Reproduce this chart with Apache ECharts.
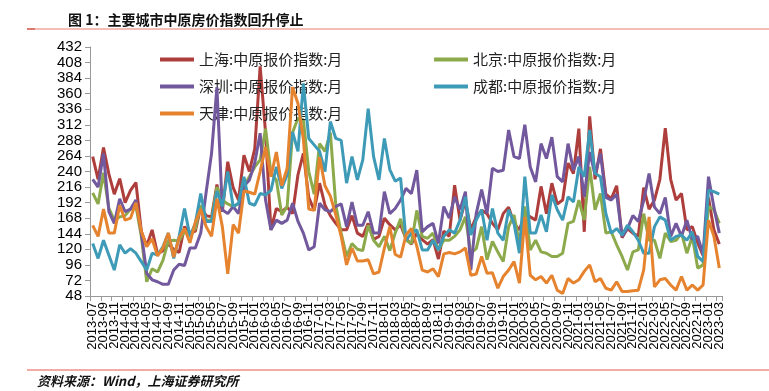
<!DOCTYPE html>
<html>
<head>
<meta charset="utf-8">
<script src="https://cdn.jsdelivr.net/npm/echarts@6/dist/echarts.min.js"></script>
<style>
html,body{margin:0;padding:0;background:#fff;}
#chart{width:769px;height:391px;}
</style>
</head>
<body>
<div id="chart"></div>
<script>
// Categories: monthly, 2013-07 .. 2023-03
const startYear = 2013, startMonth = 7, monthCount = 117;
const categories = [];
for (let k = 0; k < monthCount; k++) {
  const m0 = startMonth - 1 + k;
  const y = startYear + Math.floor(m0 / 12);
  const m = (m0 % 12) + 1;
  categories.push(y + '-' + (m < 10 ? '0' + m : '' + m));
}

const yTicks = [48, 72, 96, 120, 144, 168, 192, 216, 240, 264, 288, 312, 336, 360, 384, 408, 432];

const names = ['上海:中原报价指数:月', '北京:中原报价指数:月', '深圳:中原报价指数:月', '成都:中原报价指数:月', '天津:中原报价指数:月'];

const shanghai = [
  263, 228, 277, 236, 205, 229, 192, 211, 223, 148, 125, 150, 113, 118, 128, 120, 115, 155, 145, 148, 185, 172, 170, 220,
  178, 255, 215, 196, 265, 240, 275, 402, 300, 150, 183, 178, 185, 175, 235, 268, 200, 180, 222, 188, 172, 160, 150,
  150, 172, 145, 140, 160, 135, 140, 168, 158, 150, 158, 136, 128, 145, 135, 128, 135, 105, 148, 140, 219, 165, 195,
  150, 170, 180, 175, 160, 150, 175, 185, 160, 150, 175, 170, 165, 217, 175, 222, 190, 196, 253, 237, 306, 147, 325, 228,
  275, 205, 198, 218, 138, 152, 145, 140, 215, 182, 196, 228, 307, 228, 196, 206, 150, 155, 130, 110, 200, 150, 128
];
const beijing = [
  207, 190, 238, 183, 165, 170, 172, 182, 187, 140, 70, 90, 85, 103, 133, 134, 133, 148, 145, 152, 188, 165, 165, 216,
  196, 190, 186, 190, 217, 232, 247, 258, 306, 237, 227, 173, 186, 300, 322, 320, 240, 205, 283, 271, 300, 188, 145,
  109, 129, 120, 118, 157, 134, 124, 140, 118, 145, 167, 134, 129, 180, 140, 137, 145, 119, 134, 134, 140, 150, 170,
  114, 121, 155, 104, 132, 116, 101, 155, 173, 129, 186, 119, 134, 116, 114, 109, 109, 114, 160, 163, 196, 165, 247, 181,
  206, 145, 147, 127, 109, 88, 116, 119, 175, 134, 134, 106, 145, 132, 134, 145, 114, 140, 91, 96, 186, 181, 160
];
const shenzhen = [
  228, 216, 268, 178, 160, 198, 178, 182, 196, 145, 83, 73, 70, 66, 66, 88, 97, 95, 122, 122, 145, 208, 268, 370,
  181, 175, 186, 175, 217, 227, 253, 299, 196, 150, 165, 160, 165, 191, 163, 145, 119, 124, 191, 181, 178, 186, 190,
  155, 193, 157, 157, 178, 145, 145, 209, 175, 183, 196, 214, 206, 242, 147, 155, 160, 129, 186, 168, 201, 181, 209,
  88, 175, 212, 175, 245, 240, 242, 304, 263, 260, 312, 247, 224, 283, 260, 293, 232, 224, 283, 242, 263, 201, 270, 235,
  268, 200, 196, 205, 140, 152, 172, 163, 195, 237, 185, 175, 200, 140, 160, 140, 165, 135, 140, 112, 232, 185, 145
];
const chengdu = [
  129, 106, 134, 111, 88, 127, 114, 121, 114, 101, 88, 114, 111, 124, 145, 106, 140, 183, 140, 160, 206, 163, 163, 210,
  186, 240, 186, 191, 232, 191, 188, 206, 204, 211, 247, 214, 235, 301, 271, 376, 291, 281, 271, 240, 317, 291, 288,
  222, 263, 227, 258, 337, 263, 227, 291, 243, 225, 230, 134, 145, 150, 119, 119, 134, 119, 140, 150, 145, 165, 201,
  142, 165, 181, 134, 183, 145, 134, 181, 160, 114, 232, 145, 145, 173, 147, 204, 181, 165, 201, 193, 247, 232, 304, 237,
  232, 175, 145, 152, 142, 157, 147, 134, 114, 114, 155, 170, 165, 134, 140, 142, 134, 147, 109, 101, 211, 209, 205
];
const tianjin = [
  157, 140, 182, 145, 145, 188, 165, 168, 192, 148, 124, 136, 110, 122, 145, 108, 138, 152, 130, 162, 182, 155, 140, 198,
  155, 82, 158, 145, 210, 208, 205, 240, 278, 232, 270, 218, 245, 370, 345, 290, 182, 180, 262, 218, 202, 173, 140,
  96, 122, 102, 102, 104, 82, 85, 122, 155, 112, 108, 142, 152, 125, 88, 85, 90, 78, 113, 115, 113, 116, 122,
  80, 82, 109, 83, 84, 60, 78, 88, 101, 68, 170, 80, 73, 78, 68, 80, 57, 52, 75, 68, 73, 86, 96, 70,
  75, 60, 57, 70, 55, 55, 56, 57, 88, 170, 62, 73, 75, 65, 57, 78, 57, 65, 57, 65, 165, 140, 91
];

const colors = ['#AE3E3B', '#8CAA4C', '#72589C', '#3E9BB7', '#E6832F'];
const seriesData = [shanghai, beijing, shenzhen, chengdu, tianjin];

const chart = echarts.init(document.getElementById('chart'), null, {renderer: 'canvas'});

const legendPos = [
  {left: 155, top: 47},
  {left: 429, top: 47},
  {left: 155, top: 74},
  {left: 429, top: 74},
  {left: 155, top: 101}
];

const everyOther = function (idx) { return idx % 2 === 0; };

const option = {
  backgroundColor: '#ffffff',
  animation: false,
  color: colors,
  title: {
    text: '图 1：主要城市中原房价指数回升停止',
    left: 63, top: 8,
    textStyle: {fontSize: 14, fontWeight: 'bold', color: '#111', fontFamily: 'Noto Sans CJK SC'}
  },
  graphic: [
    {type: 'line', shape: {x1: 27, y1: 29, x2: 769, y2: 29}, style: {stroke: '#EA7C6C', lineWidth: 1}},
    {type: 'line', shape: {x1: 27, y1: 29, x2: 35, y2: 29}, style: {stroke: '#C8372D', lineWidth: 1}},
    {type: 'line', shape: {x1: 27, y1: 370, x2: 769, y2: 370}, style: {stroke: '#E8544A', lineWidth: 1}},
    {type: 'text', left: 37, top: 375, style: {text: '资料来源：Wind，上海证券研究所', font: 'italic bold 13px "Noto Sans CJK SC"', fill: '#111'}}
  ],
  legend: names.map((n, i) => ({
    data: [n],
    left: legendPos[i].left, top: legendPos[i].top,
    icon: 'rect', itemWidth: 34, itemHeight: 4,
    textStyle: {fontSize: 15, color: '#222', fontFamily: 'Noto Sans CJK SC'},
    selectedMode: false
  })),
  grid: {left: 90, right: 47, top: 47, bottom: 95, containLabel: false},
  xAxis: {
    type: 'category',
    data: categories,
    boundaryGap: true,
    axisLine: {lineStyle: {color: '#999', width: 1}},
    axisTick: {show: true, interval: everyOther, length: 5, lineStyle: {color: '#999'}},
    axisLabel: {
      interval: 0, rotate: 90, fontSize: 13, color: '#000', fontFamily: 'Liberation Sans', margin: 6,
      showMinLabel: true, showMaxLabel: true,
      formatter: function (value, idx) { return idx % 2 === 0 ? value : ''; }
    }
  },
  yAxis: {
    type: 'value',
    min: yTicks[0], max: yTicks[yTicks.length - 1], interval: 24,
    axisLine: {show: true, lineStyle: {color: '#999', width: 1}},
    axisTick: {show: true, length: 5, lineStyle: {color: '#999'}},
    splitLine: {show: false},
    axisLabel: {fontSize: 15, color: '#000', fontFamily: 'Liberation Sans', margin: 8}
  },
  series: names.map((n, i) => ({
    name: n,
    type: 'line',
    data: seriesData[i],
    symbol: 'none',
    lineStyle: {width: 3, color: colors[i]},
    itemStyle: {color: colors[i]},
    z: 2 + i
  }))
};
chart.setOption(option);
</script>
</body>
</html>
